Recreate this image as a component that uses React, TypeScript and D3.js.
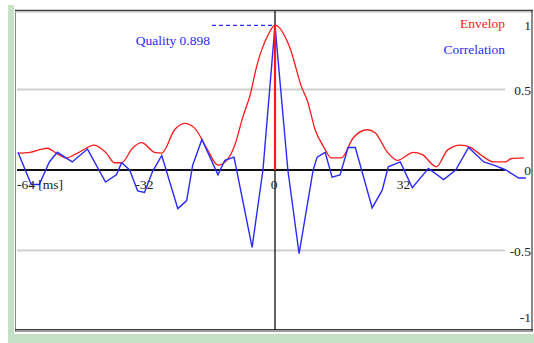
import React from "react";
import * as d3 from "d3";

// Correlation samples: [time ms, value]
const corrTime = [-64, -60.7, -58.7, -56.2, -54.2, -50.5, -46.7, -42.2, -39.5, -38.2, -36.2, -34.2, -32.5, -30.5, -28.2, -24.2, -22, -20.5, -18.2, -14.2, -12.5, -10.2, -5.7, -3, 0, 3.2, 6, 9.5, 10.5, 12.5, 14.2, 16.2, 18.2, 20, 24.2, 26.7, 28.2, 31.2, 34.2, 38.2, 42, 45, 48.2, 52, 54.5, 57.5, 60.7, 62.5];
const corrValue = [0.11, -0.09, -0.09, 0.05, 0.11, 0.05, 0.13, -0.075, -0.03, 0.045, 0, -0.13, -0.14, -0.01, 0.09, -0.24, -0.19, 0.03, 0.19, -0.03, 0.06, 0.08, -0.48, 0, 0.898, 0, -0.52, 0, 0.08, 0.11, -0.045, -0.03, 0.14, 0.14, -0.235, -0.125, 0.02, 0.05, -0.11, 0.01, -0.06, 0, 0.14, 0.05, 0.03, 0, -0.05, -0.05];

// Envelope samples
const envTime = [-64, -61, -58, -56.7, -54.5, -52, -49.2, -45, -42, -40, -38.2, -35.5, -33.2, -30, -28.2, -25, -22.5, -20, -17, -14.2, -12, -10, -8, -6.2, -4.5, -1.7, 0, 3.7, 6.7, 8, 10, 12.2, 14, 16.5, 19.5, 23, 25, 28, 30.5, 34.5, 36.7, 40.2, 43, 46.2, 48.7, 51.2, 54.5, 57.5, 58.7, 62];
const envValue = [0.105, 0.11, 0.13, 0.135, 0.105, 0.075, 0.105, 0.155, 0.105, 0.045, 0.045, 0.135, 0.17, 0.11, 0.105, 0.25, 0.29, 0.26, 0.135, 0.03, 0.06, 0.155, 0.33, 0.465, 0.65, 0.84, 0.9, 0.76, 0.51, 0.435, 0.25, 0.14, 0.075, 0.075, 0.2, 0.25, 0.23, 0.11, 0.06, 0.11, 0.095, 0.02, 0.125, 0.155, 0.14, 0.095, 0.05, 0.05, 0.07, 0.075];

const quality = 0.898;
const xTicks = [-64, -32, 0, 32];
const xTickLabels = ["-64 [ms]", "-32", "0", "32"];
const yTicks = [1, 0.5, 0, -0.5, -1];
const yTickLabels = ["1", "0.5", "0", "-0.5", "-1"];
const gridValues = [0.5, -0.5];

const W = 534;
const H = 343;

export default function App() {
  const x = d3.scaleLinear().domain([-64, 64]).range([18, 532]);
  const y = d3.scaleLinear().domain([-1, 1]).range([331, 9]);

  const corrPts = corrTime.map((t, i) => [t, corrValue[i]] as [number, number]);
  const envPts = envTime.map((t, i) => [t, envValue[i]] as [number, number]);

  const corrLine = d3.line<[number, number]>().x((d) => x(d[0])).y((d) => y(d[1]));
  const envLine = d3
    .line<[number, number]>()
    .x((d) => x(d[0]))
    .y((d) => y(d[1]))
    .curve(d3.curveMonotoneX);

  const font = "'Liberation Serif', 'Times New Roman', serif";
  const blue = "#2a2aff";
  const red = "#ff1a1a";
  const axisEnd = 505;
  const fs = 13.5;

  const yLabelY = (v: number) => {
    const yy = y(v) + 5;
    return Math.max(30, Math.min(322, yy));
  };

  return (
    <svg
      width={W}
      height={H}
      style={{ position: "absolute", left: 0, top: 0, display: "block" }}
      fontFamily={font}
    >
      <rect x={0} y={0} width={W} height={H} fill="#ffffff" />
      <rect x={8} y={5} width={W - 8} height={H - 5} fill="#c6e2c6" />
      <rect x={14} y={0} width={W - 14} height={334} fill="#ffffff" />

      {/* panel borders */}
      <line x1={15.5} y1={10} x2={15.5} y2={331} stroke="#8a8a8a" strokeWidth={1} />
      <line x1={15} y1={10.5} x2={533} y2={10.5} stroke="#3c3c3c" strokeWidth={1.5} />
      <line x1={15} y1={12} x2={533} y2={12} stroke="#bdbdbd" strokeWidth={1} />
      <line x1={15} y1={329.8} x2={533} y2={329.8} stroke="#3c3c3c" strokeWidth={1.5} />
      <line x1={15} y1={331.5} x2={533} y2={331.5} stroke="#9a9a9a" strokeWidth={1} />
      <line x1={532} y1={10} x2={532} y2={331} stroke="#3c3c3c" strokeWidth={1.2} />

      {/* grid */}
      {gridValues.map((v) => (
        <line key={v} x1={17} x2={axisEnd} y1={y(v)} y2={y(v)} stroke="#cfcfcf" strokeWidth={2} />
      ))}
      <line x1={17} x2={axisEnd} y1={y(0)} y2={y(0)} stroke="#111" strokeWidth={2} />
      <line x1={x(0)} x2={x(0)} y1={11} y2={330} stroke="#111" strokeWidth={1.3} />

      {/* curves */}
      <path d={envLine(envPts) || ""} fill="none" stroke={red} strokeWidth={1.3} />
      <path d={corrLine(corrPts) || ""} fill="none" stroke={blue} strokeWidth={1.4} />
      <line x1={x(0)} x2={x(0)} y1={y(0)} y2={y(quality)} stroke={red} strokeWidth={2.2} />

      {/* quality marker */}
      <line
        x1={212}
        x2={x(0) - 3}
        y1={y(quality)}
        y2={y(quality)}
        stroke={blue}
        strokeWidth={1.2}
        strokeDasharray="4,3"
      />
      <text x={210} y={45} fontSize={fs} fill={blue} textAnchor="end">
        {`Quality ${quality.toFixed(3)}`}
      </text>

      {/* legend */}
      <text x={505} y={28} fontSize={fs} fill={red} textAnchor="end">Envelop</text>
      <text x={505} y={54} fontSize={fs} fill={blue} textAnchor="end">Correlation</text>

      {/* y labels */}
      {yTicks.map((v, i) => (
        <text key={v} x={531} y={yLabelY(v)} fontSize={fs} fill="#222" textAnchor="end">
          {yTickLabels[i]}
        </text>
      ))}

      {/* x labels */}
      {xTicks.map((t, i) => (
        <text
          key={t}
          x={i === 0 ? 17 : x(t) - (t < 0 ? 2 : t === 0 ? 1 : 0)}
          y={189}
          fontSize={fs}
          fill="#222"
          textAnchor={i === 0 ? "start" : "middle"}
        >
          {xTickLabels[i]}
        </text>
      ))}
    </svg>
  );
}
